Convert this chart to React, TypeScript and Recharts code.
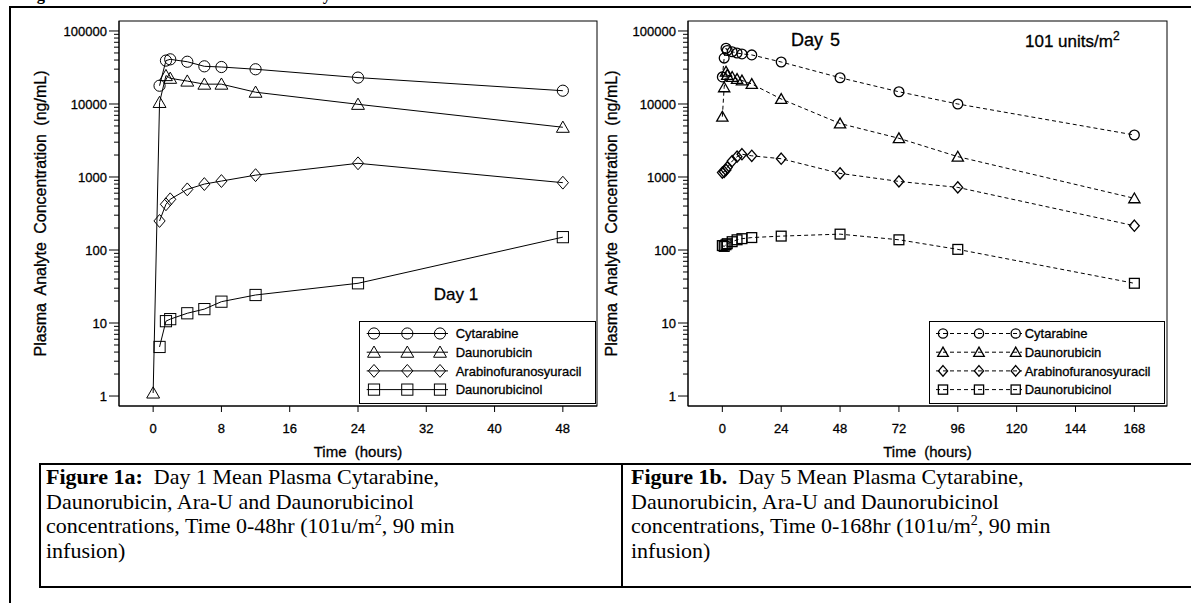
import React from 'react';
import { LineChart, Line, XAxis, YAxis, Legend } from 'recharts';

// Day 1 (0-48 h)
const day1Times = [0, 0.75, 1.5, 2, 4, 6, 8, 12, 24, 48];
const day1Cytarabine = [null, 17800, 39300, 40900, 37900, 32800, 32100, 29900, 23000, 15200];
const day1Daunorubicin = [1.1, 10500, 24500, 22500, 20600, 18700, 18700, 14500, 9900, 4800];
const day1AraU = [null, 250, 423, 495, 677, 800, 880, 1060, 1540, 836];
const day1Daunorubicinol = [null, 4.7, 10.6, 11.3, 13.6, 15.5, 19.6, 24.2, 35, 150];

// Day 5 (0-168 h)
const day5Times = [0, 0.75, 1.5, 2, 4, 6, 8, 12, 24, 48, 72, 96, 168];
const day5Cytarabine = [23500, 42500, 58000, 54000, 52000, 50000, 48500, 47000, 37600, 22900, 14700, 10000, 3760];
const day5Daunorubicin = [6700, 16900, 27700, 25000, 23500, 22000, 21000, 18800, 11700, 5400, 3390, 1900, 510];
const day5AraU = [1150, 1180, 1250, 1350, 1650, 1900, 2050, 1950, 1780, 1120, 870, 720, 215];
const day5Daunorubicinol = [115, 112, 118, 122, 130, 138, 143, 148, 155, 165, 138, 102, 35];

const analytes = ['Cytarabine', 'Daunorubicin', 'Arabinofuranosyuracil', 'Daunorubicinol'];
const analyteKeys = ['cyt', 'dau', 'arau', 'daol'];
const shapes = ['circle', 'triangle', 'diamond', 'square'];

const majorTicks = [1, 10, 100, 1000, 10000, 100000];
const minorSteps = [2, 3, 4, 5, 6, 7, 8, 9];
const day1XTicks = [0, 8, 16, 24, 32, 40, 48];
const day5XTicks = [0, 24, 48, 72, 96, 120, 144, 168];

const yTicks = [
  ...majorTicks,
  ...majorTicks.slice(0, -1).flatMap((m) => minorSteps.map((s) => s * m)),
];

const day1Rows = day1Times.map((t, i) => ({
  t,
  cyt: day1Cytarabine[i],
  dau: day1Daunorubicin[i],
  arau: day1AraU[i],
  daol: day1Daunorubicinol[i],
}));

const day5Rows = day5Times.map((t, i) => ({
  t,
  cyt: day5Cytarabine[i],
  dau: day5Daunorubicin[i],
  arau: day5AraU[i],
  daol: day5Daunorubicinol[i],
}));

const FONT = '"Liberation Sans", Arial, Helvetica, sans-serif';
const textStyle = { fontFamily: FONT, fill: '#000', stroke: '#000', strokeWidth: 0.3 };

function Marker({ shape, cx, cy, r, sw }: any) {
  if (cx == null || cy == null || isNaN(cx) || isNaN(cy)) return null;
  const common = { fill: 'none', stroke: '#000', strokeWidth: sw };
  if (shape === 'circle') return <circle cx={cx} cy={cy} r={r} {...common} />;
  if (shape === 'triangle') {
    const w = r * 1.15;
    return (
      <path
        d={`M${cx},${cy - r * 1.1} L${cx + w},${cy + r * 0.9} L${cx - w},${cy + r * 0.9} Z`}
        {...common}
      />
    );
  }
  if (shape === 'diamond') {
    return (
      <path
        d={`M${cx},${cy - r * 1.15} L${cx + r},${cy} L${cx},${cy + r * 1.15} L${cx - r},${cy} Z`}
        {...common}
      />
    );
  }
  return <rect x={cx - r} y={cy - r} width={r * 2} height={r * 2} {...common} />;
}

function YTick({ x, y, payload }: any) {
  const v = payload.value;
  const major = majorTicks.includes(v);
  return (
    <g>
      <line x1={x - (major ? 10 : 5)} x2={x} y1={y} y2={y} stroke="#000" />
      {major && (
        <text x={x - 12} y={y} dy={4.7} textAnchor="end" fontSize={13} style={textStyle}>
          {v}
        </text>
      )}
    </g>
  );
}

function XTick({ x, y, payload }: any) {
  return (
    <g>
      <line x1={x} x2={x} y1={y} y2={y + 6} stroke="#000" />
      <text x={x} y={y + 27} textAnchor="middle" fontSize={13} style={textStyle}>
        {payload.value}
      </text>
    </g>
  );
}

function LegendBox({ width, height, symX, lineX, textX, r, sw, dash }: any) {
  const rowY = [12.5, 31.2, 49.9, 68.6];
  return (
    <svg width={width} height={height} style={{ display: 'block', overflow: 'visible' }}>
      <rect x={0.5} y={0.5} width={width - 1} height={height - 1} fill="none" stroke="#000" />
      {analytes.map((name, i) => (
        <g key={name}>
          <line
            x1={lineX[0]}
            x2={lineX[1]}
            y1={rowY[i]}
            y2={rowY[i]}
            stroke="#000"
            strokeDasharray={dash}
          />
          {symX.map((sx: number) => (
            <Marker key={sx} shape={shapes[i]} cx={sx} cy={rowY[i]} r={r} sw={sw} />
          ))}
          <text x={textX} y={rowY[i] + 4.7} fontSize={13} style={textStyle}>
            {name}
          </text>
        </g>
      ))}
    </svg>
  );
}

function ConcChart({ rows, xDomain, xTicks, width, yAxisWidth, rightMargin, dash, r, sw, legend, labelX, children }: any) {
  const plotLeft = yAxisWidth;
  const plotRight = width - rightMargin;
  const plotCenter = (plotLeft + plotRight) / 2;
  return (
    <LineChart
      width={width}
      height={480}
      data={rows}
      margin={{ top: 21, right: rightMargin, bottom: 0, left: 0 }}
    >
      <XAxis
        dataKey="t"
        type="number"
        domain={xDomain}
        ticks={xTicks}
        interval={0}
        allowDataOverflow
        height={74}
        tickSize={0}
        tickMargin={0}
        tickLine={false}
        axisLine={{ stroke: '#000' }}
        tick={<XTick />}
      />
      <YAxis
        scale="log"
        type="number"
        domain={[0.73, 137000]}
        allowDataOverflow
        ticks={yTicks}
        interval={0}
        width={yAxisWidth}
        tickSize={0}
        tickMargin={0}
        tickLine={false}
        axisLine={{ stroke: '#000' }}
        tick={<YTick />}
      />
      <Legend
        layout="vertical"
        align="center"
        verticalAlign="middle"
        wrapperStyle={{ left: legend.left, top: 321, width: legend.width, height: 83 }}
        content={() => (
          <LegendBox
            width={legend.width}
            height={83}
            symX={legend.symX}
            lineX={legend.lineX}
            textX={legend.textX}
            r={legend.r}
            sw={sw}
            dash={dash}
          />
        )}
      />
      {analyteKeys.map((k, i) => (
        <Line
          key={k}
          dataKey={k}
          name={analytes[i]}
          stroke="#000"
          strokeWidth={1}
          strokeDasharray={dash}
          isAnimationActive={false}
          legendType="none"
          dot={(p: any) => (
            <g key={`${k}-${p.index}`}>
              <Marker shape={shapes[i]} cx={p.cx} cy={p.cy} r={r} sw={sw} />
            </g>
          )}
          activeDot={false}
        />
      ))}
      <rect x={plotLeft} y={21} width={plotRight - plotLeft} height={385} fill="none" stroke="#000" />
      <text
        x={labelX}
        y={213.5}
        transform={`rotate(-90, ${labelX}, 213.5)`}
        textAnchor="middle"
        fontSize={16}
        wordSpacing={4}
        style={textStyle}
      >
        Plasma Analyte Concentration (ng/mL)
      </text>
      <text x={plotCenter} y={457} textAnchor="middle" fontSize={15} wordSpacing={4} style={textStyle}>
        Time (hours)
      </text>
      {children}
    </LineChart>
  );
}

const captionStyle: React.CSSProperties = {
  position: 'absolute',
  top: 465,
  fontFamily: '"Liberation Serif", "Times New Roman", serif',
  fontSize: 22,
  lineHeight: '24.7px',
  color: '#000',
  whiteSpace: 'nowrap',
};

export default function App() {
  return (
    <div style={{ position: 'absolute', left: 0, top: 0, width: 1191, height: 603, background: '#fff', overflow: 'hidden' }}>
      <div style={{ position: 'absolute', left: 0, top: 0 }}>
        <ConcChart
          rows={day1Rows}
          xDomain={[-4, 52]}
          xTicks={day1XTicks}
          width={600}
          yAxisWidth={119}
          rightMargin={3}
          r={5.6}
          sw={1}
          labelX={46}
          legend={{ left: 359, width: 237, symX: [15, 48.3, 81], lineX: [7.7, 89], textX: 96.7, r: 5.6 }}
        >
          <text x={456} y={300} textAnchor="middle" fontSize={17} style={textStyle}>
            Day 1
          </text>
        </ConcChart>
      </div>
      <div style={{ position: 'absolute', left: 600, top: 0 }}>
        <ConcChart
          rows={day5Rows}
          xDomain={[-14, 181.3]}
          xTicks={day5XTicks}
          width={591}
          yAxisWidth={88}
          rightMargin={24}
          dash="4 3"
          r={4.9}
          sw={1.3}
          labelX={17}
          legend={{ left: 329, width: 236, symX: [14, 50, 86.7], lineX: [7, 93], textX: 95.7, r: 4.6 }}
        >
          <text x={215.5} y={46} textAnchor="middle" fontSize={18} wordSpacing={2} style={textStyle}>
            Day 5
          </text>
          <text x={425} y={46.5} fontSize={17} style={textStyle}>
            101 units/m
            <tspan dy={-7} fontSize={12}>
              2
            </tspan>
          </text>
        </ConcChart>
      </div>

      <svg
        width={1191}
        height={603}
        style={{ position: 'absolute', left: 0, top: 0, pointerEvents: 'none' }}
      >
        <text
          x={22}
          y={-0.5}
          fontSize={16.5}
          fontWeight="bold"
          fontFamily='"Liberation Serif", "Times New Roman", serif'
        >
          Figure 1: Mean Plasma Concentrations Day 1 and 5
        </text>
        <line x1={9} x2={1191} y1={7} y2={7} stroke="#000" strokeWidth={2} />
        <line x1={10} x2={10} y1={6} y2={603} stroke="#000" strokeWidth={2} />
        <line x1={39} x2={1191} y1={464} y2={464} stroke="#000" strokeWidth={2} />
        <line x1={39} x2={1191} y1={587} y2={587} stroke="#000" strokeWidth={2} />
        <line x1={40} x2={40} y1={463} y2={588} stroke="#000" strokeWidth={2} />
        <line x1={622} x2={622} y1={463} y2={588} stroke="#000" strokeWidth={2} />
      </svg>

      <div style={{ ...captionStyle, left: 46 }}>
        <b>Figure 1a:</b>&nbsp; Day 1 Mean Plasma Cytarabine,
        <br />
        Daunorubicin, Ara-U and Daunorubicinol
        <br />
        concentrations, Time 0-48hr (101u/m<sup style={{ fontSize: 14, lineHeight: 0 }}>2</sup>, 90 min
        <br />
        infusion)
      </div>
      <div style={{ ...captionStyle, left: 631 }}>
        <b>Figure 1b.</b>&nbsp; Day 5 Mean Plasma Cytarabine,
        <br />
        Daunorubicin, Ara-U and Daunorubicinol
        <br />
        concentrations, Time 0-168hr (101u/m<sup style={{ fontSize: 14, lineHeight: 0 }}>2</sup>, 90 min
        <br />
        infusion)
      </div>
    </div>
  );
}
